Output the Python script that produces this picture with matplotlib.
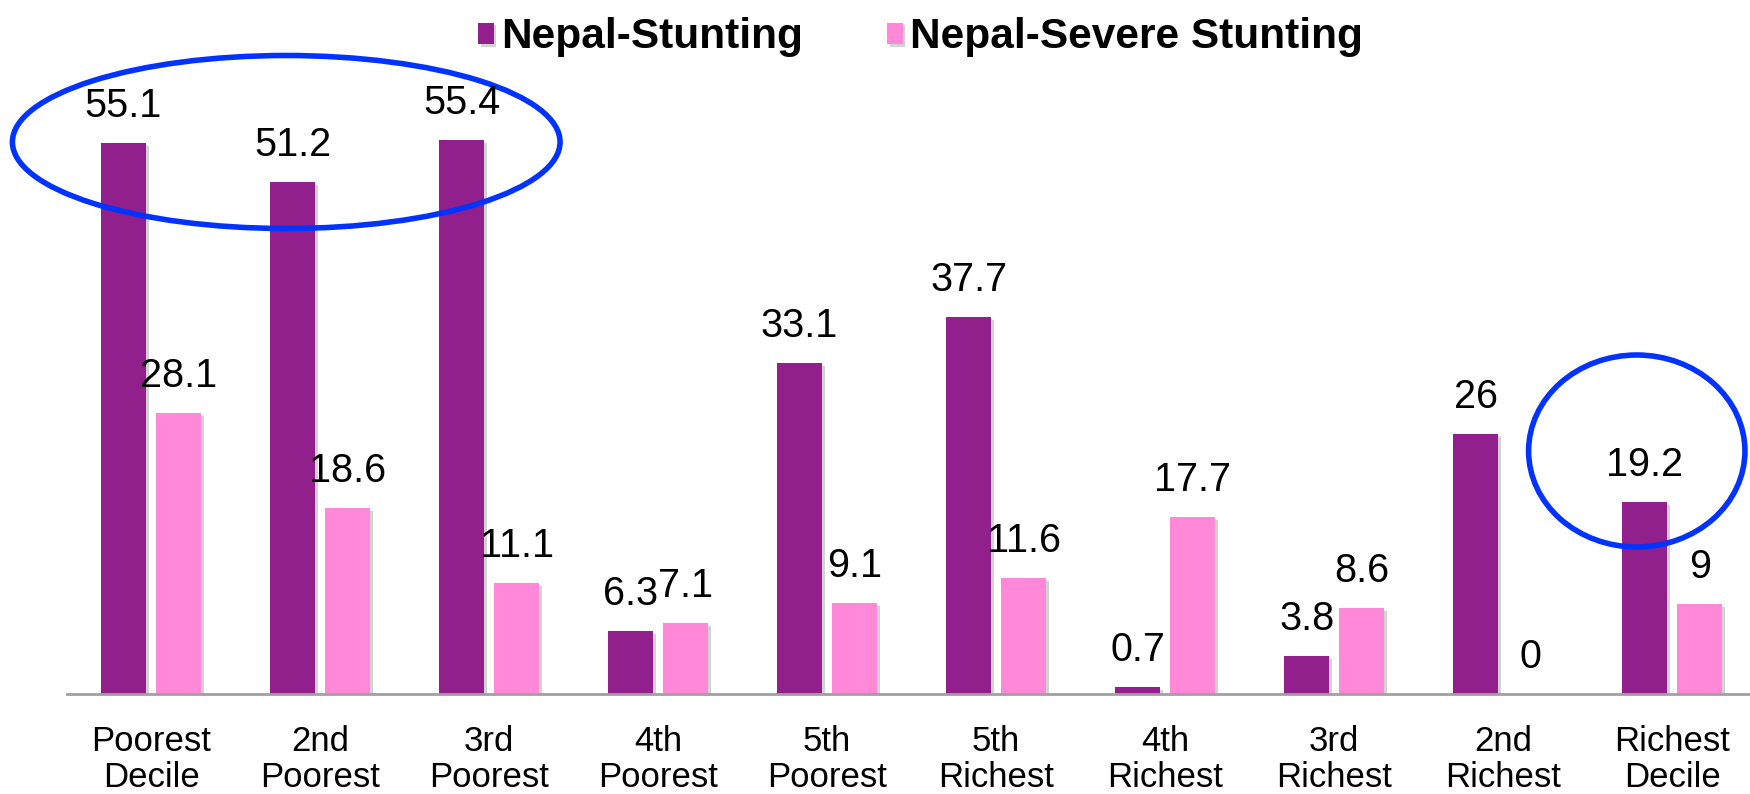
import matplotlib
matplotlib.use("Agg")
import matplotlib.pyplot as plt
import matplotlib.patheffects as pe
from matplotlib.patches import Ellipse
import numpy as np

plt.rcParams["font.family"] = ["Liberation Sans", "DejaVu Sans"]

categories = [
    "Poorest\nDecile", "2nd\nPoorest", "3rd\nPoorest", "4th\nPoorest", "5th\nPoorest",
    "5th\nRichest", "4th\nRichest", "3rd\nRichest", "2nd\nRichest", "Richest\nDecile",
]
stunting = [55.1, 51.2, 55.4, 6.3, 33.1, 37.7, 0.7, 3.8, 26, 19.2]
severe = [28.1, 18.6, 11.1, 7.1, 9.1, 11.6, 17.7, 8.6, 0, 9]
series_names = ["Nepal-Stunting", "Nepal-Severe Stunting"]

# highlight rings: (x center, y center, width, height) in data units
highlights = [(0.80, 55.2, 3.24, 17.3), (8.79, 24.3, 1.28, 19.2)]

PURPLE = "#91208C"
PINK = "#FF88D8"
RING = "#0033FF"

fig = plt.figure(figsize=(17.5, 7.94), dpi=100)
ax = fig.add_axes([67 / 1750, 100 / 794, 1683 / 1750, 694 / 794])

x = np.arange(len(categories))
width = 0.266
offset = 0.163
shadow = [pe.SimplePatchShadow(offset=(2, -2), shadow_rgbFace="#808080", alpha=0.35), pe.Normal()]

b1 = ax.bar(x - offset, stunting, width, color=PURPLE, label=series_names[0])
b2 = ax.bar(x + offset, severe, width, color=PINK, label=series_names[1])
for bar in list(b1) + list(b2):
    bar.set_path_effects(shadow)

for bars, vals in ((b1, stunting), (b2, severe)):
    for bar, v in zip(bars, vals):
        ax.annotate(
            f"{v:g}",
            (bar.get_x() + bar.get_width() / 2, v),
            xytext=(0, 18.5),
            textcoords="offset points",
            ha="center",
            va="baseline",
            fontsize=28.5,
        )

for cx, cy, w, h in highlights:
    ax.add_patch(Ellipse((cx, cy), w, h, fill=False, edgecolor=RING, linewidth=4, clip_on=False))

ax.set_xlim(-0.497, 9.46)
ax.set_ylim(0, 69.4)
ax.set_xticks(x)
ax.set_xticklabels(categories, fontsize=25, linespacing=1.15)
ax.tick_params(axis="x", length=0, pad=22)
ax.set_yticks([])
for side in ("left", "right", "top"):
    ax.spines[side].set_visible(False)
ax.spines["bottom"].set_color("#A0A0A0")
ax.spines["bottom"].set_linewidth(2)

fig.legend(
    handles=[b1, b2],
    labels=series_names,
    loc="upper center",
    bbox_to_anchor=(0.526, 1.026),
    ncol=2,
    frameon=False,
    prop={"weight": "bold", "size": 30.5},
    handlelength=0.36,
    handleheight=0.4,
    handletextpad=0.17,
    columnspacing=2.0,
)

fig.savefig("out.png", dpi=100)
